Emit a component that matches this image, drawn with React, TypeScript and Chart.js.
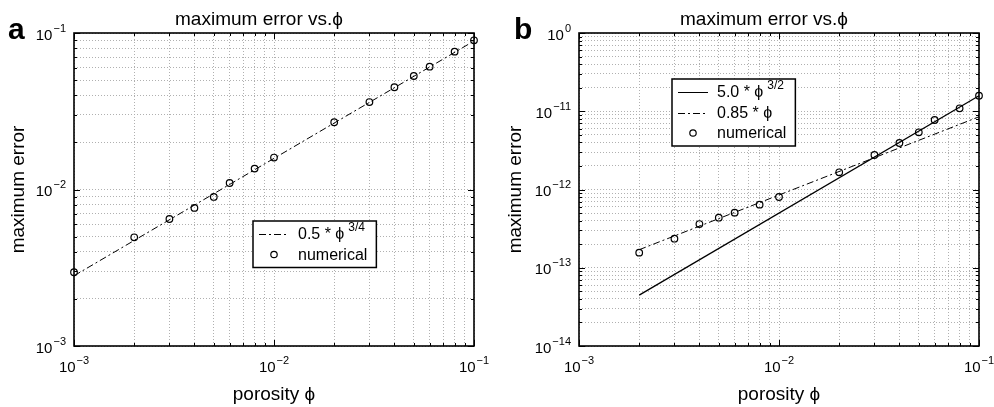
import React, { useEffect, useRef } from "react";
import { Chart, registerables } from "chart.js";

Chart.register(...registerables);

const FONT = "'Liberation Sans', Arial, Helvetica, sans-serif";

// ---------- Panel a data ----------
const PHI_A = [0.001, 0.002, 0.003, 0.004, 0.005, 0.006, 0.008, 0.01, 0.02, 0.03, 0.04, 0.05, 0.06, 0.08, 0.1];
const ERR_A = [0.00296, 0.00495, 0.00648, 0.00762, 0.00896, 0.0110, 0.0136, 0.0160, 0.0269, 0.0362, 0.0450, 0.0531, 0.0609, 0.0760, 0.0898];
const FIT_A_PHI = [0.001, 0.1];
const FIT_A_VAL = [0.00281, 0.0889];

// ---------- Panel b data ----------
const PHI_B = [0.002, 0.003, 0.004, 0.005, 0.006, 0.008, 0.01, 0.02, 0.03, 0.04, 0.05, 0.06, 0.08, 0.1];
const ERR_B = [0.00156, 0.00235, 0.00362, 0.00436, 0.00506, 0.0064, 0.00802, 0.0166, 0.0276, 0.0393, 0.0538, 0.0773, 0.109, 0.158];
const FIT_B1_PHI = [0.002, 0.1];
const FIT_B1_VAL = [0.000447, 0.158];
const FIT_B2_PHI = [0.002, 0.1];
const FIT_B2_VAL = [0.0017, 0.085];

// ---------- Tick labels ----------
const X_TICK_VALUES = [1e-3, 1e-2, 1e-1];
const X_TICK_EXPONENTS = ["\u22123", "\u22122", "\u22121"];
const A_Y_TICK_VALUES = [1e-3, 1e-2, 1e-1];
const A_Y_TICK_EXPONENTS = ["\u22123", "\u22122", "\u22121"];
const B_Y_TICK_VALUES = [1e-4, 1e-3, 1e-2, 1e-1, 1];
const B_Y_TICK_EXPONENTS = ["\u221214", "\u221213", "\u221212", "\u221211", "0"];

const TITLE = "maximum error vs.\u03D5";
const X_TITLE = "porosity \u03D5";
const Y_TITLE = "maximum error";

function logTicks(min: number, max: number) {
  const out: { value: number; major: boolean }[] = [];
  const e0 = Math.floor(Math.log10(min) + 1e-9);
  const e1 = Math.ceil(Math.log10(max) - 1e-9);
  for (let e = e0; e <= e1; e++) {
    for (let m = 1; m <= 9; m++) {
      const v = parseFloat((m * Math.pow(10, e)).toPrecision(6));
      if (v >= min * 0.999999 && v <= max * 1.000001) out.push({ value: v, major: m === 1 });
    }
  }
  return out;
}

function pts(xs: number[], ys: number[]) {
  return xs.map((x, i) => ({ x, y: ys[i] }));
}

function drawPow(ctx: CanvasRenderingContext2D, x: number, y: number, exp: string, align: "center" | "right") {
  ctx.font = `15px ${FONT}`;
  const wBase = ctx.measureText("10").width;
  ctx.font = `11px ${FONT}`;
  const wExp = ctx.measureText(exp).width;
  const total = wBase + 1 + wExp;
  const x0 = align === "center" ? x - total / 2 : x - total;
  ctx.textAlign = "left";
  ctx.textBaseline = "alphabetic";
  ctx.fillStyle = "#000";
  ctx.font = `15px ${FONT}`;
  ctx.fillText("10", x0, y);
  ctx.font = `11px ${FONT}`;
  ctx.fillText(exp, x0 + wBase + 1, y - 8);
}

type LegendItem = { kind: "line" | "marker"; dash?: number[]; text: string; sup?: string };

type PanelCfg = {
  letter: string;
  letterX: number;
  yTickValues: number[];
  yTickExps: string[];
  legend: LegendItem[];
  legendDX: number;
  legendDY: number;
};

function makePlugin(cfg: PanelCfg) {
  return {
    id: "panelDecor" + cfg.letter,
    afterDraw(chart: any) {
      const ctx: CanvasRenderingContext2D = chart.ctx;
      const ca = chart.chartArea;
      const xs = chart.scales.x;
      const ys = chart.scales.y;
      ctx.save();

      // inner tick marks on all four sides
      ctx.strokeStyle = "#000";
      ctx.lineWidth = 1;
      ctx.setLineDash([]);
      xs.ticks.forEach((t: any) => {
        const px = Math.round(xs.getPixelForValue(t.value)) + 0.5;
        const len = t.major ? 6 : 3;
        ctx.beginPath();
        ctx.moveTo(px, ca.bottom);
        ctx.lineTo(px, ca.bottom - len);
        ctx.moveTo(px, ca.top);
        ctx.lineTo(px, ca.top + len);
        ctx.stroke();
      });
      ys.ticks.forEach((t: any) => {
        const py = Math.round(ys.getPixelForValue(t.value)) + 0.5;
        const len = t.major ? 6 : 3;
        ctx.beginPath();
        ctx.moveTo(ca.left, py);
        ctx.lineTo(ca.left + len, py);
        ctx.moveTo(ca.right, py);
        ctx.lineTo(ca.right - len, py);
        ctx.stroke();
      });

      // frame
      ctx.lineWidth = 1.6;
      ctx.strokeRect(ca.left, ca.top, ca.right - ca.left, ca.bottom - ca.top);

      // tick labels
      X_TICK_VALUES.forEach((v, i) => {
        drawPow(ctx, xs.getPixelForValue(v), ca.bottom + 26, X_TICK_EXPONENTS[i], "center");
      });
      cfg.yTickValues.forEach((v, i) => {
        drawPow(ctx, ca.left - 8, ys.getPixelForValue(v) + 6.5, cfg.yTickExps[i], "right");
      });

      // title
      ctx.fillStyle = "#000";
      ctx.font = `19px ${FONT}`;
      ctx.textAlign = "center";
      ctx.textBaseline = "alphabetic";
      ctx.fillText(TITLE, (ca.left + ca.right) / 2 - 15, 25);

      // panel letter
      ctx.font = `bold 30px ${FONT}`;
      ctx.textAlign = "left";
      ctx.fillText(cfg.letter, cfg.letterX, 39);

      // legend
      const bx = ca.left + cfg.legendDX;
      const by = ca.top + cfg.legendDY;
      let maxW = 0;
      cfg.legend.forEach((it) => {
        ctx.font = `16px ${FONT}`;
        let w = ctx.measureText(it.text).width;
        if (it.sup) {
          ctx.font = `12px ${FONT}`;
          w += 3 + ctx.measureText(it.sup).width;
        }
        maxW = Math.max(maxW, w);
      });
      const bw = 45 + maxW + 9;
      const bh = 13 + (cfg.legend.length - 1) * 20.5 + 13;
      ctx.fillStyle = "#fff";
      ctx.fillRect(bx, by, bw, bh);
      ctx.strokeStyle = "#000";
      ctx.lineWidth = 1.5;
      ctx.strokeRect(bx, by, bw, bh);
      cfg.legend.forEach((it, i) => {
        const ry = by + 13 + i * 20.5;
        if (it.kind === "line") {
          ctx.lineWidth = 1;
          ctx.setLineDash(it.dash || []);
          ctx.beginPath();
          ctx.moveTo(bx + 6, Math.round(ry) + 0.5);
          ctx.lineTo(bx + 36, Math.round(ry) + 0.5);
          ctx.stroke();
          ctx.setLineDash([]);
        } else {
          ctx.lineWidth = 1.2;
          ctx.beginPath();
          ctx.arc(bx + 21, ry, 3.2, 0, Math.PI * 2);
          ctx.stroke();
        }
        ctx.fillStyle = "#000";
        ctx.font = `16px ${FONT}`;
        ctx.textAlign = "left";
        ctx.textBaseline = "middle";
        ctx.fillText(it.text, bx + 45, ry + 1);
        if (it.sup) {
          const tw = ctx.measureText(it.text).width;
          ctx.font = `12px ${FONT}`;
          ctx.fillText(it.sup, bx + 45 + tw + 4, ry - 6);
        }
      });

      ctx.restore();
    },
  };
}

const DASH_DOT = [7, 3, 2, 3];

function baseScales(xMin: number, xMax: number, yMin: number, yMax: number, yWidth: number) {
  const gridOpts = { color: "#b0b0b0", lineWidth: 1, drawTicks: false };
  const borderOpts = { display: false, dash: [1, 2] };
  return {
    x: {
      type: "logarithmic",
      min: xMin,
      max: xMax,
      afterBuildTicks: (s: any) => {
        s.ticks = logTicks(xMin, xMax);
      },
      afterFit: (s: any) => {
        s.height = 61;
      },
      ticks: { display: false, autoSkip: false },
      grid: gridOpts,
      border: borderOpts,
      title: {
        display: true,
        text: X_TITLE,
        color: "#000",
        font: { size: 19, family: FONT },
        padding: { top: 0, bottom: 1 },
      },
    },
    y: {
      type: "logarithmic",
      min: yMin,
      max: yMax,
      afterBuildTicks: (s: any) => {
        s.ticks = logTicks(yMin, yMax);
      },
      afterFit: (s: any) => {
        s.width = yWidth;
      },
      ticks: { display: false, autoSkip: false },
      grid: gridOpts,
      border: borderOpts,
      title: {
        display: true,
        text: Y_TITLE,
        color: "#000",
        font: { size: 19, family: FONT },
        padding: { top: 7, bottom: 0 },
      },
    },
  };
}

const markerStyle = {
  showLine: false,
  pointStyle: "circle",
  pointRadius: 3.3,
  pointBorderWidth: 1.2,
  pointBorderColor: "#000",
  pointBackgroundColor: "rgba(0,0,0,0)",
  borderColor: "#000",
  clip: false as any,
};

function lineStyle(dash: number[], width: number) {
  return {
    borderColor: "#000",
    borderWidth: width,
    borderDash: dash,
    pointRadius: 0,
    fill: false,
    tension: 0,
    clip: false as any,
  };
}

function PanelA() {
  const ref = useRef<HTMLCanvasElement | null>(null);
  useEffect(() => {
    if (!ref.current) return;
    const chart = new Chart(ref.current, {
      type: "line",
      data: {
        datasets: [
          { label: "0.5 * \u03D5 3/4", data: pts(FIT_A_PHI, FIT_A_VAL), ...lineStyle(DASH_DOT, 1) },
          { label: "numerical", data: pts(PHI_A, ERR_A), ...markerStyle },
        ],
      } as any,
      options: {
        responsive: false,
        animation: false,
        devicePixelRatio: 1,
        layout: { padding: { left: 0, right: 23, top: 33, bottom: 0 } },
        plugins: { legend: { display: false }, tooltip: { enabled: false }, title: { display: false } },
        scales: baseScales(1e-3, 1e-1, 1e-3, 1e-1, 74) as any,
      },
      plugins: [
        makePlugin({
          letter: "a",
          letterX: 8,
          yTickValues: A_Y_TICK_VALUES,
          yTickExps: A_Y_TICK_EXPONENTS,
          legend: [
            { kind: "line", dash: DASH_DOT, text: "0.5 * \u03D5", sup: "3/4" },
            { kind: "marker", text: "numerical" },
          ],
          legendDX: 179,
          legendDY: 188,
        }),
      ],
    });
    return () => chart.destroy();
  }, []);
  return <canvas ref={ref} width={497} height={407} style={{ position: "absolute", left: 0, top: 0 }} />;
}

function PanelB() {
  const ref = useRef<HTMLCanvasElement | null>(null);
  useEffect(() => {
    if (!ref.current) return;
    const chart = new Chart(ref.current, {
      type: "line",
      data: {
        datasets: [
          { label: "5.0 * \u03D5 3/2", data: pts(FIT_B1_PHI, FIT_B1_VAL), ...lineStyle([], 1.3) },
          { label: "0.85 * \u03D5", data: pts(FIT_B2_PHI, FIT_B2_VAL), ...lineStyle(DASH_DOT, 1) },
          { label: "numerical", data: pts(PHI_B, ERR_B), ...markerStyle },
        ],
      } as any,
      options: {
        responsive: false,
        animation: false,
        devicePixelRatio: 1,
        layout: { padding: { left: 0, right: 15, top: 33, bottom: 0 } },
        plugins: { legend: { display: false }, tooltip: { enabled: false }, title: { display: false } },
        scales: baseScales(1e-3, 1e-1, 1e-4, 1, 82) as any,
      },
      plugins: [
        makePlugin({
          letter: "b",
          letterX: 17,
          yTickValues: B_Y_TICK_VALUES,
          yTickExps: B_Y_TICK_EXPONENTS,
          legend: [
            { kind: "line", dash: [], text: "5.0 * \u03D5", sup: "3/2" },
            { kind: "line", dash: DASH_DOT, text: "0.85 * \u03D5" },
            { kind: "marker", text: "numerical" },
          ],
          legendDX: 93,
          legendDY: 46,
        }),
      ],
    });
    return () => chart.destroy();
  }, []);
  return <canvas ref={ref} width={497} height={407} style={{ position: "absolute", left: 497, top: 0 }} />;
}

export default function App() {
  return (
    <div style={{ position: "absolute", left: 0, top: 0, width: 994, height: 407, background: "#fff" }}>
      <PanelA />
      <PanelB />
    </div>
  );
}
